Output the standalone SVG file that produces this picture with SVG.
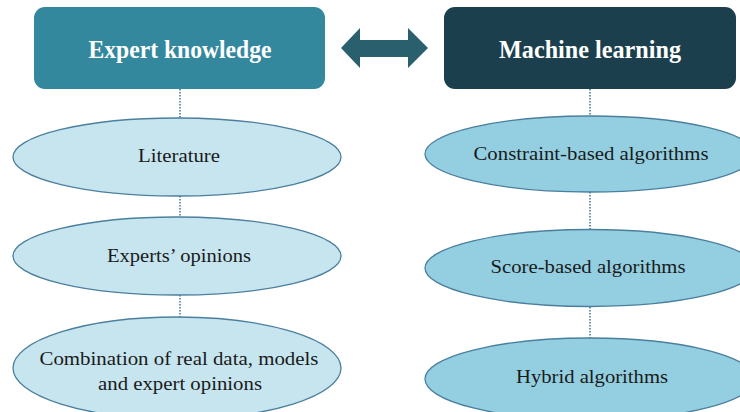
<svg xmlns="http://www.w3.org/2000/svg" width="740" height="412" viewBox="0 0 740 412">
<style>
.title{font-family:"Liberation Serif",serif;font-weight:bold;font-size:25px;fill:#ffffff;text-anchor:middle}
.lbl{font-family:"Liberation Serif",serif;font-size:19px;fill:#1a1a1a;text-anchor:middle}
.ell{stroke:#4a7f9e;stroke-width:1.3}
.l{fill:#c6e5ef}
.r{fill:#93cfe0}
.conn{stroke:#3f7487;stroke-width:1.5;stroke-dasharray:1.5 1.5;fill:none}
</style>
<rect width="740" height="412" fill="#ffffff"/>
<g id="connectors">
<line class="conn" x1="180" y1="89" x2="180" y2="118"/>
<line class="conn" x1="180" y1="196" x2="180" y2="217"/>
<line class="conn" x1="180" y1="295" x2="180" y2="317"/>
<line class="conn" x1="590" y1="89" x2="590" y2="116"/>
<line class="conn" x1="590" y1="192" x2="590" y2="230"/>
<line class="conn" x1="590" y1="307" x2="590" y2="338"/>
<polygon id="double-arrow" points="341,48 360,28 360,40 408,40 408,28 428,48 408,68 408,57 360,57 360,68" fill="#2a5f6e"/>
</g>
<g id="expert-knowledge">
<rect x="34" y="7" width="291" height="82" rx="11" fill="#33889e"/>
<text class="title" x="180" y="58" textLength="183" lengthAdjust="spacingAndGlyphs">Expert knowledge</text>
</g>
<g id="machine-learning">
<rect x="444" y="7" width="292" height="82" rx="11" fill="#1b3f4c"/>
<text class="title" x="590" y="58" textLength="182" lengthAdjust="spacingAndGlyphs">Machine learning</text>
</g>
<g id="literature">
<ellipse class="ell l" cx="177" cy="157" rx="164" ry="39"/>
<text class="lbl" x="179" y="162" textLength="82" lengthAdjust="spacingAndGlyphs">Literature</text>
</g>
<g id="experts-opinions">
<ellipse class="ell l" cx="177" cy="256" rx="164" ry="39"/>
<text class="lbl" x="179" y="262" textLength="144" lengthAdjust="spacingAndGlyphs">Experts’ opinions</text>
</g>
<g id="combination">
<ellipse class="ell l" cx="177" cy="368" rx="164" ry="51"/>
<text class="lbl" x="179" y="365" textLength="279" lengthAdjust="spacingAndGlyphs">Combination of real data, models</text>
<text class="lbl" x="180" y="390" textLength="164" lengthAdjust="spacingAndGlyphs">and expert opinions</text>
</g>
<g id="constraint-based">
<ellipse class="ell r" cx="590" cy="154" rx="165" ry="38"/>
<text class="lbl" x="591" y="160" textLength="235" lengthAdjust="spacingAndGlyphs">Constraint-based algorithms</text>
</g>
<g id="score-based">
<ellipse class="ell r" cx="590" cy="268" rx="165" ry="38.5"/>
<text class="lbl" x="588" y="273" textLength="195" lengthAdjust="spacingAndGlyphs">Score-based algorithms</text>
</g>
<g id="hybrid">
<ellipse class="ell r" cx="590" cy="379" rx="165" ry="41"/>
<text class="lbl" x="592" y="383" textLength="152" lengthAdjust="spacingAndGlyphs">Hybrid algorithms</text>
</g>
</svg>
